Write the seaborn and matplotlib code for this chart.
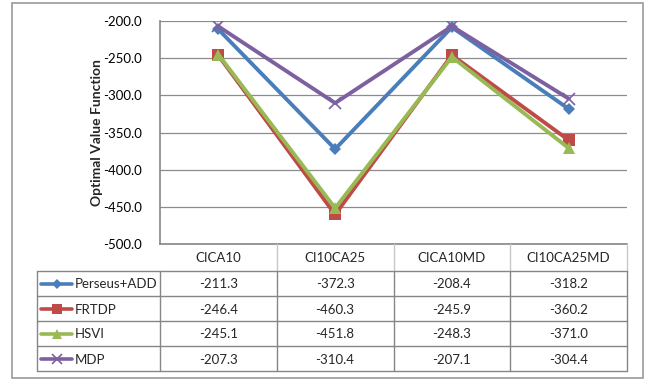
import matplotlib
matplotlib.use("Agg")
import matplotlib.pyplot as plt
from matplotlib.lines import Line2D
from matplotlib.patches import Rectangle
import seaborn as sns
import pandas as pd

# Data
categories = ["CICA10", "CI10CA25", "CICA10MD", "CI10CA25MD"]
series_names = ["Perseus+ADD", "FRTDP", "HSVI", "MDP"]
perseus_add = [-211.3, -372.3, -208.4, -318.2]
frtdp = [-246.4, -460.3, -245.9, -360.2]
hsvi = [-245.1, -451.8, -248.3, -371.0]
mdp = [-207.3, -310.4, -207.1, -304.4]
y_ticks = [-500, -450, -400, -350, -300, -250, -200]
y_label = "Optimal Value Function"

values = {"Perseus+ADD": perseus_add, "FRTDP": frtdp, "HSVI": hsvi, "MDP": mdp}
colors = {"Perseus+ADD": "#4A7EBB", "FRTDP": "#BE4B48", "HSVI": "#98B954", "MDP": "#7D60A0"}
markers = {"Perseus+ADD": "D", "FRTDP": "s", "HSVI": "^", "MDP": "x"}
msizes = {"Perseus+ADD": 6.5, "FRTDP": 8, "HSVI": 9, "MDP": 9}

rows = []
for name in series_names:
    for i, cat in enumerate(categories):
        rows.append({"pos": i, "category": cat, "series": name, "value": values[name][i]})
df = pd.DataFrame(rows)

sns.set_theme(style="white")
plt.rcParams["font.family"] = ["Lato", "DejaVu Sans"]

W, H = 648, 381
fig = plt.figure(figsize=(W / 100, H / 100), dpi=100)

# pixel layout helpers (origin at top-left)
def fx(px):
    return px / W

def fy(py):
    return 1 - py / H

ax_l, ax_r, ax_t, ax_b = 160, 627, 21, 244
ax = fig.add_axes([fx(ax_l), fy(ax_b), fx(ax_r - ax_l), (ax_b - ax_t) / H])

for name in series_names:
    sub = df[df["series"] == name]
    sns.lineplot(data=sub, x="pos", y="value", ax=ax, color=colors[name],
                 marker=markers[name], markersize=msizes[name],
                 markeredgecolor=colors[name], markeredgewidth=1.2 if name == "MDP" else 0,
                 linewidth=2.8, sort=False, legend=False, zorder=3)

ax.set_xlim(-0.5, len(categories) - 0.5)
ax.set_ylim(-500, -200)
ax.set_yticks(y_ticks)
ax.set_yticklabels([f"{t:.1f}" for t in y_ticks], fontsize=9.5, color="#000000")
ax.set_xticks([])
ax.set_xlabel("")
ax.set_ylabel(y_label, fontsize=10, fontweight="bold", labelpad=0)
ax.tick_params(axis="y", length=0, pad=13)
ax.grid(axis="y", color="#8C8C8C", linewidth=0.9)
ax.set_axisbelow(True)
for side in ["top", "right"]:
    ax.spines[side].set_visible(False)
for side in ["left", "bottom"]:
    ax.spines[side].set_color("#868686")
    ax.spines[side].set_linewidth(1.2)

# Data table below the plot
dark = "#868686"
light = "#C8C8C8"
col_w = (ax_r - ax_l) / len(categories)
hdr_t, hdr_b = ax_b, 271
row_h = 25
leg_l = 37
tbl_b = hdr_b + row_h * len(series_names)
fs = 9.5

def hline(x0, x1, y, color, lw=1.0):
    fig.add_artist(Line2D([fx(x0), fx(x1)], [fy(y), fy(y)], color=color, lw=lw))

def vline(x, y0, y1, color, lw=1.0):
    fig.add_artist(Line2D([fx(x), fx(x)], [fy(y0), fy(y1)], color=color, lw=lw))

# header column separators
for i in range(1, len(categories) + 1):
    vline(ax_l + i * col_w, hdr_t, hdr_b, light)
for i, cat in enumerate(categories):
    fig.text(fx(ax_l + (i + 0.5) * col_w), fy((hdr_t + hdr_b) / 2 + 1), cat,
             ha="center", va="center", fontsize=fs)

# body grid
for r in range(len(series_names) + 1):
    hline(leg_l, ax_r, hdr_b + r * row_h, dark)
vline(leg_l, hdr_b, tbl_b, dark)
for i in range(len(categories) + 1):
    vline(ax_l + i * col_w, hdr_b, tbl_b, dark)

for r, name in enumerate(series_names):
    yc = hdr_b + (r + 0.5) * row_h
    fig.add_artist(Line2D([fx(41), fx(72)], [fy(yc), fy(yc)], color=colors[name], lw=2.6))
    fig.add_artist(Line2D([fx(56.5)], [fy(yc)], color=colors[name], lw=0,
                          marker=markers[name], markersize=msizes[name] * 0.85,
                          markeredgewidth=1.2 if name == "MDP" else 0,
                          markeredgecolor=colors[name]))
    fig.text(fx(75), fy(yc + 1), name, ha="left", va="center", fontsize=fs)
    for i, v in enumerate(values[name]):
        fig.text(fx(ax_l + (i + 0.5) * col_w), fy(yc + 1), f"{v:.1f}",
                 ha="center", va="center", fontsize=fs)

# outer chart border
fig.add_artist(Rectangle((fx(12), fy(378)), fx(643 - 12), (378 - 3) / H,
                         fill=False, edgecolor="#9A9A9A", lw=1.2))

fig.savefig("out.png", dpi=100)
